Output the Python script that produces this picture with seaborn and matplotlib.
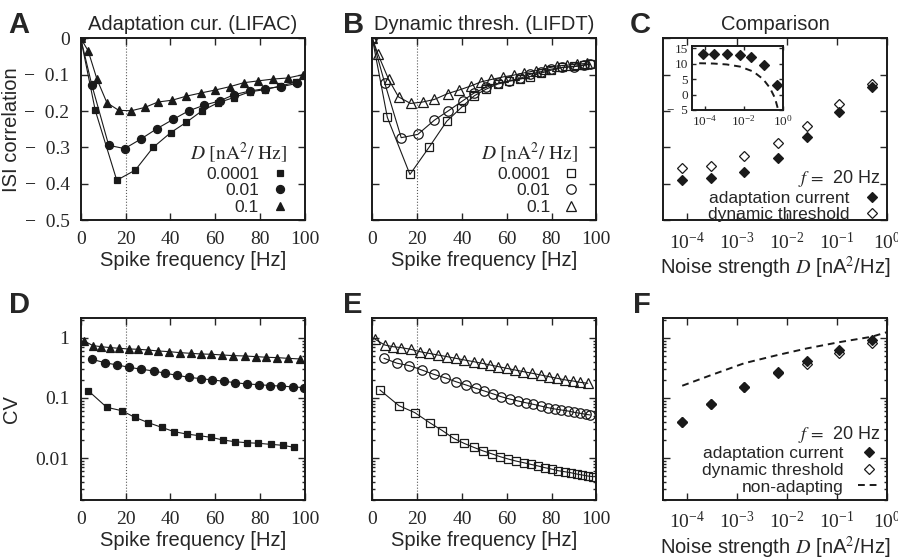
import seaborn as sns
import matplotlib.pyplot as plt
from matplotlib.ticker import FuncFormatter, MultipleLocator, LogLocator, NullLocator

# reference frequency (dotted line)
F_REF = 20

# ---- A: adaptation current (LIFAC), ISI correlation vs spike frequency
a_sq_f = [0, 6.5, 16.1, 24.4, 32.3, 40.2, 47.1, 54.2, 61.3, 68.3, 75.4, 82.4, 89.1, 96.3]
a_sq_r = [0, -0.198, -0.390, -0.362, -0.300, -0.259, -0.231, -0.199, -0.177, -0.163, -0.147, -0.141, -0.131, -0.120]
a_ci_f = [0, 5.0, 12.5, 19.6, 26.8, 34.1, 41.2, 48.3, 55.0, 62.0, 68.4, 75.4, 82.4, 89.5, 96.5]
a_ci_r = [0, -0.129, -0.294, -0.303, -0.277, -0.248, -0.223, -0.199, -0.184, -0.172, -0.155, -0.145, -0.138, -0.133, -0.124]
a_tr_f = [0, 3.3, 7.3, 11.7, 17.0, 22.6, 28.6, 34.5, 40.9, 47.1, 53.8, 60.1, 66.5, 72.8, 79.2, 85.8, 92.5, 99.2]
a_tr_r = [0, -0.034, -0.113, -0.177, -0.198, -0.199, -0.190, -0.175, -0.170, -0.159, -0.150, -0.142, -0.133, -0.122,
          -0.117, -0.112, -0.109, -0.100]

# ---- B: dynamic threshold (LIFDT)
b_sq_f = [0, 6.7, 16.8, 25.5, 33.2, 39.6, 45.5, 50.7, 55.9, 61.0, 66.0, 70.4, 75.1, 79.6, 84.8, 90.0, 94.4, 97.1]
b_sq_r = [0, -0.217, -0.374, -0.298, -0.228, -0.191, -0.158, -0.140, -0.126, -0.118, -0.112, -0.105, -0.096, -0.088,
          -0.080, -0.077, -0.073, -0.071]
b_ci_f = [0, 5.5, 12.9, 20.3, 27.7, 34.0, 40.3, 45.5, 50.7, 55.9, 61.0, 66.0, 70.4, 75.1, 79.6, 84.8, 90.0, 94.4, 97.1]
b_ci_r = [0, -0.122, -0.273, -0.264, -0.225, -0.199, -0.172, -0.150, -0.135, -0.124, -0.117, -0.110, -0.099, -0.092,
          -0.085, -0.080, -0.078, -0.074, -0.071]
b_tr_f = [0, 2.5, 7.3, 11.7, 17.1, 22.5, 27.7, 33.6, 38.8, 44.0, 48.4, 53.2, 58.5, 63.3, 67.7, 72.9, 77.3, 82.5, 86.7,
          91.4, 95.9]
b_tr_r = [0, -0.043, -0.113, -0.161, -0.179, -0.175, -0.168, -0.152, -0.142, -0.131, -0.120, -0.113, -0.106, -0.101,
          -0.095, -0.089, -0.083, -0.076, -0.074, -0.071, -0.069]

d_labels = ["0.0001", "0.01", "0.1"]

# ---- C: comparison at f = 20 Hz vs noise strength
noise_d = [8e-5, 3e-4, 1.4e-3, 6.5e-3, 2.5e-2, 0.11, 0.5]
c_adapt = [-0.390, -0.385, -0.368, -0.330, -0.272, -0.203, -0.134]
c_thresh = [-0.355, -0.352, -0.324, -0.288, -0.242, -0.181, -0.126]
inset_vals = [13.3, 13.3, 13.1, 12.8, 12.2, 9.7, 3.1]
inset_dash_d = [5.2e-5, 2.8e-4, 1.35e-3, 6.5e-3, 3.1e-2, 0.1, 0.22, 0.4, 0.59]
inset_dash_v = [10.2, 10.1, 9.8, 9.1, 7.5, 5.0, 2.2, -1.1, -5.0]

# ---- D: CV, adaptation current
dd_tr_f = [1.5, 5.5, 9.2, 13.2, 17.1, 21.4, 25.6, 30.0, 34.5, 39.4, 44.2, 49.1, 53.6, 58.3, 63.2, 68.1, 73.2, 78.1,
           82.9, 87.8, 92.5, 97.8]
dd_tr_cv = [0.89, 0.745, 0.716, 0.69, 0.673, 0.656, 0.648, 0.631, 0.607, 0.592, 0.57, 0.555, 0.541, 0.535, 0.521,
            0.508, 0.501, 0.489, 0.477, 0.47, 0.458, 0.447]
dd_ci_f = [5.0, 10.7, 16.2, 21.6, 27.1, 32.6, 37.8, 43.0, 48.3, 53.6, 58.8, 63.8, 69.0, 74.2, 79.5, 84.6, 89.6, 94.8, 99.7]
dd_ci_cv = [0.441, 0.388, 0.355, 0.325, 0.301, 0.282, 0.258, 0.239, 0.221, 0.21, 0.2, 0.19, 0.18, 0.171, 0.167, 0.161,
            0.158, 0.153, 0.149]
dd_sq_f = [3.4, 11.6, 18.3, 24.2, 30.2, 36.2, 41.7, 47.3, 52.8, 58.2, 63.4, 68.9, 74.1, 79.3, 84.8, 90.2, 95.2]
dd_sq_cv = [0.132, 0.070, 0.0615, 0.0476, 0.0388, 0.0324, 0.0275, 0.0251, 0.0236, 0.0221, 0.020, 0.0187, 0.018,
            0.0176, 0.0169, 0.0163, 0.0151]

# ---- E: CV, dynamic threshold
e_tr_f = [1.1, 5.5, 9.2, 12.9, 17.1, 21.1, 25.2, 29.2, 33.3, 37.3, 41.1, 45.2, 48.9, 52.6, 56.3, 60.0, 63.7, 67.4,
          71.4, 75.1, 78.8, 82.5, 86.2, 89.6, 92.9, 96.2]
e_tr_cv = [0.96, 0.764, 0.716, 0.69, 0.648, 0.592, 0.555, 0.521, 0.489, 0.458, 0.43, 0.403, 0.379, 0.355, 0.333,
           0.312, 0.293, 0.275, 0.258, 0.242, 0.227, 0.213, 0.2, 0.192, 0.182, 0.176]
e_ci_f = [5.2, 11.1, 16.6, 22.1, 27.4, 32.4, 37.3, 41.8, 46.2, 50.0, 54.0, 57.6, 61.3, 65.1, 68.4, 71.9, 75.1, 78.4,
          81.5, 84.4, 87.4, 90.2, 92.9, 95.4, 97.3]
e_ci_cv = [0.458, 0.379, 0.346, 0.293, 0.248, 0.218, 0.187, 0.165, 0.145, 0.131, 0.117, 0.105, 0.0962, 0.0891,
           0.0836, 0.0784, 0.0736, 0.069, 0.0656, 0.0631, 0.0607, 0.0577, 0.0555, 0.0534, 0.0521]
e_sq_f = [3.4, 11.9, 19.0, 25.6, 31.3, 36.3, 40.9, 45.2, 49.3, 53.5, 57.2, 60.8, 64.2, 67.6, 70.8, 74.1, 77.1, 80.0,
          83.0, 86.0, 88.6, 91.3, 93.8, 96.3, 98.7]
e_sq_cv = [0.136, 0.0745, 0.057, 0.0388, 0.0286, 0.0213, 0.0176, 0.0151, 0.0132, 0.0117, 0.0105, 0.0096, 0.0089,
           0.00836, 0.00784, 0.00736, 0.0069, 0.00656, 0.00615, 0.00591, 0.0057, 0.00541, 0.00521, 0.00501, 0.00489]

# ---- F: CV at f = 20 Hz vs noise strength
f_adapt = [0.040, 0.0785, 0.155, 0.269, 0.407, 0.63, 0.93]
f_thresh = [0.040, 0.078, 0.152, 0.26, 0.37, 0.57, 0.82]
f_nonad_d = [8e-5, 3e-4, 1.4e-3, 6.5e-3, 2.5e-2, 0.11, 0.5, 1.0]
f_nonad_cv = [0.16, 0.24, 0.38, 0.52, 0.67, 0.85, 1.05, 1.25]


sns.set_theme(style="ticks")
plt.rcParams["font.family"] = ["Liberation Sans", "DejaVu Sans"]
plt.rcParams["mathtext.fontset"] = "stix"
plt.rcParams["axes.linewidth"] = 1.4

SERIF = "Liberation Serif"
LABEL_FS = 14.5
TICK_FS = 14
LEG_FS = 12.5


def neg_fmt(v, pos):
    if abs(v) < 1e-9:
        return "0"
    if v < 0:
        return "\u2212  {:g}".format(abs(v))
    return "{:g}".format(v)


def style(ax, labels_x=True, labels_y=True, fs=TICK_FS, pad=8):
    ax.tick_params(which="both", direction="in", top=True, right=True, width=1.0,
                   labelsize=fs, labelfontfamily=SERIF, pad=pad,
                   labelbottom=labels_x, labelleft=labels_y)
    ax.tick_params(which="major", length=5)
    ax.tick_params(which="minor", length=2.5)
    for s in ax.spines.values():
        s.set_linewidth(1.4)
        s.set_color("k")


def curve(ax, x, y, marker, filled, label, ms):
    sns.lineplot(x=x, y=y, ax=ax, color="k", lw=0.8, sort=False, estimator=None)
    sns.lineplot(x=x, y=y, ax=ax, color="k", linestyle="none", marker=marker, ms=ms,
                 mfc="k" if filled else "none", mec="#1a1a1a", mew=0.9,
                 sort=False, estimator=None, label=label)


def points(ax, x, y, filled, label, ms=5.6):
    sns.lineplot(x=x, y=y, ax=ax, color="k", linestyle="none", marker="D", ms=ms,
                 mfc="k" if filled else "white", mec="k", mew=0.9,
                 sort=False, estimator=None, label=label)


def ordered_handles(ax, order):
    h, l = ax.get_legend_handles_labels()
    d = dict(zip(l, h))
    return [d[k] for k in order]


fig = plt.figure(figsize=(8.98, 5.6), dpi=100)
W, H = 898, 560


def add_ax(x0, y0, w=224, h=182):
    return fig.add_axes([x0 / W, 1 - (y0 + h) / H, w / W, h / H])


axA = add_ax(80.7, 38.3)
axB = add_ax(372.3, 38.3)
axC = add_ax(663, 38.3)
axD = add_ax(80.7, 318)
axE = add_ax(372.3, 318)
axF = add_ax(663, 318)

freq_label = "Spike frequency [Hz]"
noise_label = r"Noise strength $D$ [nA$^2$/Hz]"
d_title = r"$D\ [\mathrm{nA}^2/\ \mathrm{Hz}]$"
f_title = r"$f\,=\,$ 20 Hz"
LEG_KW = dict(markerfirst=False, frameon=False, alignment="right", fontsize=LEG_FS,
              handletextpad=0.8, labelspacing=0.08, borderpad=0, borderaxespad=0)

# ---------------- A / B
for ax, sets, filled, title in [
    (axA, [(a_sq_f, a_sq_r, "s"), (a_ci_f, a_ci_r, "o"), (a_tr_f, a_tr_r, "^")], True, "Adaptation cur. (LIFAC)"),
    (axB, [(b_sq_f, b_sq_r, "s"), (b_ci_f, b_ci_r, "o"), (b_tr_f, b_tr_r, "^")], False, "Dynamic thresh. (LIFDT)"),
]:
    ax.axvline(F_REF, color="0.35", ls=":", lw=0.8, zorder=0)
    sizes = {"s": 5.0, "o": 5.8, "^": 6.0} if filled else {"s": 6.0, "o": 6.8, "^": 7.0}
    for (x, y, m), lab in zip(sets, d_labels):
        curve(ax, x, y, m, filled, lab, sizes[m])
    ax.set_xlim(0, 100)
    ax.set_ylim(-0.5, 0)
    ax.xaxis.set_major_locator(MultipleLocator(20))
    ax.yaxis.set_major_locator(MultipleLocator(0.1))
    ax.yaxis.set_major_formatter(FuncFormatter(neg_fmt))
    style(ax, labels_y=(ax is axA))
    ax.set_xlabel(freq_label, fontsize=LABEL_FS, labelpad=2)
    ax.set_ylabel("")
    ax.set_title(title, fontsize=LABEL_FS, pad=6)
    ax.legend(title=d_title, loc="lower right", bbox_to_anchor=(0.92, 0.03), title_fontsize=14,
              handlelength=0.8, **LEG_KW)

axA.set_ylabel("ISI correlation", fontsize=LABEL_FS)
axA.yaxis.set_label_coords(-0.265, 0.5)

# ---------------- C
points(axC, noise_d, c_thresh, False, "dynamic threshold")
points(axC, noise_d, c_adapt, True, "adaptation current")
axC.set_xscale("log")
axC.set_xlim(3.3e-5, 1.0)
axC.set_ylim(-0.5, 0)
axC.xaxis.set_major_locator(LogLocator(base=10, numticks=10))
axC.xaxis.set_minor_locator(NullLocator())
axC.yaxis.set_major_locator(MultipleLocator(0.1))
style(axC, labels_y=False)
axC.set_xlabel(noise_label, fontsize=LABEL_FS, labelpad=2)
axC.set_ylabel("")
axC.set_title("Comparison", fontsize=LABEL_FS, pad=6)
axC.legend(handles=ordered_handles(axC, ["adaptation current", "dynamic threshold"]),
           title=f_title, loc="lower right", bbox_to_anchor=(0.97, -0.01), title_fontsize=LEG_FS + 0.5,
           handlelength=1.0, **LEG_KW)

# inset in C
axI = fig.add_axes([692.3 / W, 1 - 110 / H, 90.4 / W, 64 / H])
points(axI, noise_d, inset_vals, True, None, ms=4.6)
sns.lineplot(x=inset_dash_d, y=inset_dash_v, ax=axI, color="k", lw=1.4, linestyle=(0, (3.5, 2.5)),
             sort=False, estimator=None)
axI.set_xscale("log")
axI.set_xlim(2.3e-5, 1.0)
axI.set_ylim(-5, 15.8)
axI.xaxis.set_major_locator(LogLocator(base=100, numticks=10))
axI.xaxis.set_minor_locator(NullLocator())
axI.yaxis.set_major_locator(MultipleLocator(5))
axI.yaxis.set_major_formatter(FuncFormatter(neg_fmt))
style(axI, fs=9.5, pad=3)
axI.tick_params(which="major", length=3)
axI.set_xlabel("")
axI.set_ylabel("")
if axI.get_legend() is not None:
    axI.get_legend().remove()

# ---------------- D / E
for ax, sets, filled in [
    (axD, [(dd_sq_f, dd_sq_cv, "s"), (dd_ci_f, dd_ci_cv, "o"), (dd_tr_f, dd_tr_cv, "^")], True),
    (axE, [(e_sq_f, e_sq_cv, "s"), (e_ci_f, e_ci_cv, "o"), (e_tr_f, e_tr_cv, "^")], False),
]:
    ax.axvline(F_REF, color="0.35", ls=":", lw=0.8, zorder=0)
    sizes = {"s": 5.0, "o": 5.8, "^": 6.0} if filled else {"s": 6.0, "o": 6.8, "^": 7.0}
    for (x, y, m), lab in zip(sets, d_labels):
        curve(ax, x, y, m, filled, lab, sizes[m])
    ax.set_yscale("log")
    ax.set_xlim(0, 100)
    ax.set_ylim(0.002, 2.15)
    ax.xaxis.set_major_locator(MultipleLocator(20))
    ax.yaxis.set_major_locator(LogLocator(base=10, numticks=10))
    ax.yaxis.set_major_formatter(FuncFormatter(lambda v, p: "{:g}".format(v)))
    style(ax, labels_y=(ax is axD))
    ax.set_xlabel(freq_label, fontsize=LABEL_FS, labelpad=2)
    ax.set_ylabel("")
    if ax.get_legend() is not None:
        ax.get_legend().remove()

axD.set_ylabel("CV", fontsize=LABEL_FS)
axD.yaxis.set_label_coords(-0.265, 0.5)

# ---------------- F
points(axF, noise_d, f_thresh, False, "dynamic threshold")
points(axF, noise_d, f_adapt, True, "adaptation current")
sns.lineplot(x=f_nonad_d, y=f_nonad_cv, ax=axF, color="k", lw=1.4, linestyle=(0, (3.5, 2.5)),
             sort=False, estimator=None, label="non-adapting")
axF.set_xscale("log")
axF.set_yscale("log")
axF.set_xlim(3.3e-5, 1.0)
axF.set_ylim(0.002, 2.15)
axF.xaxis.set_major_locator(LogLocator(base=10, numticks=10))
axF.xaxis.set_minor_locator(NullLocator())
style(axF, labels_y=False)
axF.set_xlabel(noise_label, fontsize=LABEL_FS, labelpad=2)
axF.set_ylabel("")
axF.legend(handles=ordered_handles(axF, ["adaptation current", "dynamic threshold", "non-adapting"]),
           title=f_title, loc="lower right", bbox_to_anchor=(0.97, 0.03), title_fontsize=LEG_FS + 0.5,
           handlelength=1.3, **LEG_KW)

# panel letters
for letter, x, y in [("A", 8, 33), ("B", 343, 33), ("C", 630, 33), ("D", 9, 313), ("E", 343, 313), ("F", 633, 313)]:
    fig.text(x / W, 1 - y / H, letter, fontsize=21, fontweight="bold", va="baseline", ha="left")

fig.savefig("out.png", dpi=100)
